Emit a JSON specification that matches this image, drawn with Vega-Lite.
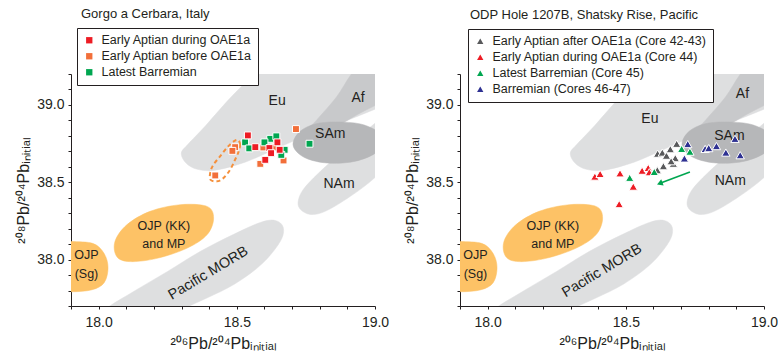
{
  "$schema": "https://vega.github.io/schema/vega-lite/v6.json",
  "padding": {"left": 15, "top": 7, "right": 5, "bottom": 5},
  "background": "white",
  "config": {
    "font": "Liberation Sans",
    "view": {"stroke": null},
    "axis": {"domainColor": "#231f20", "tickColor": "#231f20", "labelColor": "#231f20", "titleColor": "#231f20", "grid": false, "tickSize": 3, "labelFontSize": 14, "titleFontSize": 16, "titleFontWeight": "normal", "labelFont": "Liberation Sans", "titleFont": "Liberation Sans"},
    "legend": {"fillColor": "white", "strokeColor": "#231f20", "padding": 6, "labelFontSize": 12.5, "labelFont": "Liberation Sans", "labelColor": "#231f20", "labelLimit": 400, "symbolSize": 40, "rowPadding": 3, "labelOffset": 6, "symbolStrokeWidth": 0, "cornerRadius": 0},
    "title": {"fontSize": 13, "fontWeight": "normal", "anchor": "start", "color": "#231f20", "frame": "group", "offset": 7, "font": "Liberation Sans"}
  },
  "datasets": {
    "shapes": [
      {"s": "Eu", "c": "light", "i": 1, "x": 18.299, "y": 38.688},
      {"s": "Eu", "c": "light", "i": 2, "x": 18.317, "y": 38.623},
      {"s": "Eu", "c": "light", "i": 3, "x": 18.357, "y": 38.584},
      {"s": "Eu", "c": "light", "i": 4, "x": 18.422, "y": 38.578},
      {"s": "Eu", "c": "light", "i": 5, "x": 18.530, "y": 38.630},
      {"s": "Eu", "c": "light", "i": 6, "x": 18.639, "y": 38.714},
      {"s": "Eu", "c": "light", "i": 7, "x": 18.748, "y": 38.799},
      {"s": "Eu", "c": "light", "i": 8, "x": 18.875, "y": 38.883},
      {"s": "Eu", "c": "light", "i": 9, "x": 19.020, "y": 38.987},
      {"s": "Eu", "c": "light", "i": 10, "x": 19.201, "y": 39.123},
      {"s": "Eu", "c": "light", "i": 11, "x": 19.273, "y": 39.318},
      {"s": "Eu", "c": "light", "i": 12, "x": 19.164, "y": 39.481},
      {"s": "Eu", "c": "light", "i": 13, "x": 18.838, "y": 39.481},
      {"s": "Eu", "c": "light", "i": 14, "x": 18.621, "y": 39.286},
      {"s": "Eu", "c": "light", "i": 15, "x": 18.494, "y": 39.078},
      {"s": "Eu", "c": "light", "i": 16, "x": 18.386, "y": 38.864},
      {"s": "Eu", "c": "light", "i": 17, "x": 18.324, "y": 38.747},
      {"s": "NAm", "c": "light", "i": 1, "x": 18.722, "y": 38.377},
      {"s": "NAm", "c": "light", "i": 2, "x": 18.741, "y": 38.455},
      {"s": "NAm", "c": "light", "i": 3, "x": 18.795, "y": 38.558},
      {"s": "NAm", "c": "light", "i": 4, "x": 18.875, "y": 38.688},
      {"s": "NAm", "c": "light", "i": 5, "x": 19.001, "y": 38.883},
      {"s": "NAm", "c": "light", "i": 6, "x": 19.092, "y": 38.994},
      {"s": "NAm", "c": "light", "i": 7, "x": 19.164, "y": 38.929},
      {"s": "NAm", "c": "light", "i": 8, "x": 19.092, "y": 38.701},
      {"s": "NAm", "c": "light", "i": 9, "x": 19.001, "y": 38.532},
      {"s": "NAm", "c": "light", "i": 10, "x": 18.911, "y": 38.409},
      {"s": "NAm", "c": "light", "i": 11, "x": 18.820, "y": 38.312},
      {"s": "NAm", "c": "light", "i": 12, "x": 18.766, "y": 38.292},
      {"s": "NAm", "c": "light", "i": 13, "x": 18.730, "y": 38.325},
      {"s": "MORB", "c": "light", "i": 1, "x": 18.668, "y": 38.208},
      {"s": "MORB", "c": "light", "i": 2, "x": 18.657, "y": 38.117},
      {"s": "MORB", "c": "light", "i": 3, "x": 18.592, "y": 37.974},
      {"s": "MORB", "c": "light", "i": 4, "x": 18.494, "y": 37.844},
      {"s": "MORB", "c": "light", "i": 5, "x": 18.386, "y": 37.747},
      {"s": "MORB", "c": "light", "i": 6, "x": 18.259, "y": 37.649},
      {"s": "MORB", "c": "light", "i": 7, "x": 18.114, "y": 37.565},
      {"s": "MORB", "c": "light", "i": 8, "x": 18.005, "y": 37.584},
      {"s": "MORB", "c": "light", "i": 9, "x": 18.023, "y": 37.675},
      {"s": "MORB", "c": "light", "i": 10, "x": 18.125, "y": 37.792},
      {"s": "MORB", "c": "light", "i": 11, "x": 18.248, "y": 37.922},
      {"s": "MORB", "c": "light", "i": 12, "x": 18.367, "y": 38.052},
      {"s": "MORB", "c": "light", "i": 13, "x": 18.487, "y": 38.162},
      {"s": "MORB", "c": "light", "i": 14, "x": 18.585, "y": 38.240},
      {"s": "MORB", "c": "light", "i": 15, "x": 18.639, "y": 38.253},
      {"s": "Af", "c": "mid", "i": 1, "x": 18.740, "y": 38.800},
      {"s": "Af", "c": "mid", "i": 2, "x": 18.790, "y": 38.905},
      {"s": "Af", "c": "mid", "i": 3, "x": 18.860, "y": 39.050},
      {"s": "Af", "c": "mid", "i": 4, "x": 18.915, "y": 39.201},
      {"s": "Af", "c": "mid", "i": 5, "x": 18.985, "y": 39.351},
      {"s": "Af", "c": "mid", "i": 6, "x": 19.092, "y": 39.416},
      {"s": "Af", "c": "mid", "i": 7, "x": 19.128, "y": 39.221},
      {"s": "Af", "c": "mid", "i": 8, "x": 19.056, "y": 39.058},
      {"s": "Af", "c": "mid", "i": 9, "x": 18.947, "y": 38.948},
      {"s": "Af", "c": "mid", "i": 10, "x": 18.838, "y": 38.844},
      {"s": "SAm", "c": "dark", "i": 1, "x": 18.704, "y": 38.760},
      {"s": "SAm", "c": "dark", "i": 2, "x": 18.730, "y": 38.831},
      {"s": "SAm", "c": "dark", "i": 3, "x": 18.784, "y": 38.877},
      {"s": "SAm", "c": "dark", "i": 4, "x": 18.857, "y": 38.890},
      {"s": "SAm", "c": "dark", "i": 5, "x": 18.947, "y": 38.877},
      {"s": "SAm", "c": "dark", "i": 6, "x": 19.012, "y": 38.825},
      {"s": "SAm", "c": "dark", "i": 7, "x": 19.027, "y": 38.760},
      {"s": "SAm", "c": "dark", "i": 8, "x": 19.001, "y": 38.688},
      {"s": "SAm", "c": "dark", "i": 9, "x": 18.929, "y": 38.636},
      {"s": "SAm", "c": "dark", "i": 10, "x": 18.838, "y": 38.623},
      {"s": "SAm", "c": "dark", "i": 11, "x": 18.759, "y": 38.649},
      {"s": "SAm", "c": "dark", "i": 12, "x": 18.715, "y": 38.701},
      {"s": "KK", "c": "orange", "i": 1, "x": 18.059, "y": 38.117},
      {"s": "KK", "c": "orange", "i": 2, "x": 18.102, "y": 38.225},
      {"s": "KK", "c": "orange", "i": 3, "x": 18.186, "y": 38.312},
      {"s": "KK", "c": "orange", "i": 4, "x": 18.295, "y": 38.355},
      {"s": "KK", "c": "orange", "i": 5, "x": 18.392, "y": 38.344},
      {"s": "KK", "c": "orange", "i": 6, "x": 18.416, "y": 38.268},
      {"s": "KK", "c": "orange", "i": 7, "x": 18.392, "y": 38.160},
      {"s": "KK", "c": "orange", "i": 8, "x": 18.319, "y": 38.073},
      {"s": "KK", "c": "orange", "i": 9, "x": 18.211, "y": 38.008},
      {"s": "KK", "c": "orange", "i": 10, "x": 18.114, "y": 37.987},
      {"s": "KK", "c": "orange", "i": 11, "x": 18.066, "y": 38.019},
      {"s": "Sg", "c": "orange", "i": 1, "x": 17.824, "y": 38.117},
      {"s": "Sg", "c": "orange", "i": 2, "x": 17.900, "y": 38.117},
      {"s": "Sg", "c": "orange", "i": 3, "x": 17.980, "y": 38.104},
      {"s": "Sg", "c": "orange", "i": 4, "x": 18.020, "y": 38.039},
      {"s": "Sg", "c": "orange", "i": 5, "x": 18.034, "y": 37.948},
      {"s": "Sg", "c": "orange", "i": 6, "x": 18.020, "y": 37.851},
      {"s": "Sg", "c": "orange", "i": 7, "x": 17.976, "y": 37.805},
      {"s": "Sg", "c": "orange", "i": 8, "x": 17.900, "y": 37.792},
      {"s": "Sg", "c": "orange", "i": 9, "x": 17.824, "y": 37.805},
      {"s": "Sg", "c": "orange", "i": 10, "x": 17.788, "y": 37.955}
    ],
    "ojp": [
      {"t": "OJP (KK)", "x": 18.236, "y": 38.217},
      {"t": "and MP", "x": 18.236, "y": 38.104},
      {"t": "OJP", "x": 17.956, "y": 38.030},
      {"t": "(Sg)", "x": 17.956, "y": 37.905}
    ]
  },
  "hconcat": [
    {
      "width": 304,
      "height": 232,
      "title": {"text": "Gorgo a Cerbara, Italy", "dx": 10},
      "encoding": {
        "x": {"field": "x", "type": "quantitative", "scale": {"domain": [17.9, 19.0], "nice": false, "zero": false},
          "axis": {"title": "²⁰⁶Pb/²⁰⁴Pbᵢₙᵢₜᵢₐₗ", "values": [17.9, 18.0, 18.1, 18.2, 18.3, 18.4, 18.5, 18.6, 18.7, 18.8, 18.9, 19.0], "labelExpr": "abs(datum.value*2 - round(datum.value*2)) < 0.01 ? format(datum.value, '.1f') : ''", "labelFlush": false, "labelOverlap": false, "labelPadding": 6, "titlePadding": 6}},
        "y": {"field": "y", "type": "quantitative", "scale": {"domain": [37.7, 39.2], "nice": false, "zero": false},
          "axis": {"title": "²⁰⁸Pb/²⁰⁴Pbᵢₙᵢₜᵢₐₗ", "values": [37.7, 37.8, 37.9, 38.0, 38.1, 38.2, 38.3, 38.4, 38.5, 38.6, 38.7, 38.8, 38.9, 39.0, 39.1, 39.2], "labelExpr": "abs(datum.value*2 - round(datum.value*2)) < 0.01 ? format(datum.value, '.1f') : ''", "labelFlush": false, "labelOverlap": false, "labelPadding": 4, "titlePadding": 5}}
      },
      "layer": [
        {"data": {"name": "shapes"}, "transform": [{"filter": "datum.c === 'light'"}], "mark": {"type": "line", "interpolate": "cardinal-closed", "fill": "#dedfe0", "stroke": "#dedfe0", "strokeWidth": 0.5, "clip": true}, "encoding": {"detail": {"field": "s"}, "order": {"field": "i", "type": "quantitative"}}},
        {"data": {"name": "shapes"}, "transform": [{"filter": "datum.c === 'mid'"}], "mark": {"type": "line", "interpolate": "cardinal-closed", "fill": "#c8c9cb", "stroke": "#c8c9cb", "strokeWidth": 0.5, "clip": true}, "encoding": {"detail": {"field": "s"}, "order": {"field": "i", "type": "quantitative"}}},
        {"data": {"name": "shapes"}, "transform": [{"filter": "datum.c === 'dark'"}], "mark": {"type": "line", "interpolate": "cardinal-closed", "fill": "#b6b7b9", "stroke": "#b6b7b9", "strokeWidth": 0.5, "clip": true}, "encoding": {"detail": {"field": "s"}, "order": {"field": "i", "type": "quantitative"}}},
        {"data": {"name": "shapes"}, "transform": [{"filter": "datum.c === 'orange'"}], "mark": {"type": "line", "interpolate": "cardinal-closed", "fill": "#fdc266", "stroke": "#fdc266", "strokeWidth": 0.5, "clip": true}, "encoding": {"detail": {"field": "s"}, "order": {"field": "i", "type": "quantitative"}}},
        {"data": {"values": [
          {"t": "Eu", "x": 18.646, "y": 39.026},
          {"t": "Af", "x": 18.939, "y": 39.047},
          {"t": "SAm", "x": 18.838, "y": 38.810},
          {"t": "NAm", "x": 18.870, "y": 38.490}
        ]}, "mark": {"type": "text", "fontSize": 14, "color": "#231f20", "align": "center", "baseline": "middle"}, "encoding": {"text": {"field": "t"}}},
        {"data": {"name": "ojp"}, "mark": {"type": "text", "fontSize": 12.5, "color": "#231f20", "align": "center", "baseline": "middle"}, "encoding": {"text": {"field": "t"}}},
        {"data": {"values": [{"t": "Pacific MORB", "x": 18.397, "y": 37.911}]}, "mark": {"type": "text", "fontSize": 14.5, "angle": -31, "color": "#231f20", "align": "center", "baseline": "middle"}, "encoding": {"text": {"field": "t"}}},
        {"data": {"values": [
          {"i": 1, "x": 18.506, "y": 38.771}, {"i": 2, "x": 18.512, "y": 38.745}, {"i": 3, "x": 18.507, "y": 38.701},
          {"i": 4, "x": 18.494, "y": 38.647}, {"i": 5, "x": 18.476, "y": 38.582}, {"i": 6, "x": 18.452, "y": 38.528},
          {"i": 7, "x": 18.428, "y": 38.506}, {"i": 8, "x": 18.404, "y": 38.518}, {"i": 9, "x": 18.405, "y": 38.571},
          {"i": 10, "x": 18.416, "y": 38.615}, {"i": 11, "x": 18.440, "y": 38.669}, {"i": 12, "x": 18.464, "y": 38.723},
          {"i": 13, "x": 18.482, "y": 38.755}, {"i": 14, "x": 18.496, "y": 38.772}
        ]}, "mark": {"type": "line", "interpolate": "cardinal-closed", "stroke": "#f5903c", "strokeWidth": 2, "strokeDash": [4, 3]}, "encoding": {"order": {"field": "i", "type": "quantitative"}}},
        {"data": {"values": [
          {"g": "Early Aptian before OAE1a", "x": 18.714, "y": 38.844},
          {"g": "Early Aptian before OAE1a", "x": 18.639, "y": 38.775},
          {"g": "Early Aptian before OAE1a", "x": 18.494, "y": 38.727},
          {"g": "Early Aptian before OAE1a", "x": 18.484, "y": 38.703},
          {"g": "Early Aptian before OAE1a", "x": 18.596, "y": 38.725},
          {"g": "Early Aptian before OAE1a", "x": 18.633, "y": 38.725},
          {"g": "Early Aptian before OAE1a", "x": 18.585, "y": 38.619},
          {"g": "Early Aptian before OAE1a", "x": 18.669, "y": 38.641},
          {"g": "Early Aptian before OAE1a", "x": 18.422, "y": 38.544},
          {"g": "Latest Barremian", "x": 18.621, "y": 38.781},
          {"g": "Latest Barremian", "x": 18.643, "y": 38.797},
          {"g": "Latest Barremian", "x": 18.530, "y": 38.758},
          {"g": "Latest Barremian", "x": 18.545, "y": 38.719},
          {"g": "Latest Barremian", "x": 18.600, "y": 38.758},
          {"g": "Latest Barremian", "x": 18.673, "y": 38.710},
          {"g": "Latest Barremian", "x": 18.661, "y": 38.677},
          {"g": "Latest Barremian", "x": 18.763, "y": 38.749},
          {"g": "Early Aptian during OAE1a", "x": 18.540, "y": 38.803},
          {"g": "Early Aptian during OAE1a", "x": 18.647, "y": 38.758},
          {"g": "Early Aptian during OAE1a", "x": 18.567, "y": 38.727},
          {"g": "Early Aptian during OAE1a", "x": 18.618, "y": 38.721},
          {"g": "Early Aptian during OAE1a", "x": 18.624, "y": 38.688},
          {"g": "Early Aptian during OAE1a", "x": 18.655, "y": 38.710},
          {"g": "Early Aptian during OAE1a", "x": 18.603, "y": 38.645}
        ]}, "mark": {"type": "square", "size": 48, "filled": true, "stroke": "white", "strokeWidth": 1, "opacity": 1},
          "encoding": {"color": {"field": "g", "type": "nominal",
            "scale": {"domain": ["Early Aptian during OAE1a", "Early Aptian before OAE1a", "Latest Barremian"], "range": ["#ed1c24", "#f26f3a", "#00a650"]},
            "legend": {"title": null, "orient": "none", "legendX": 6, "legendY": -46}}}}
      ]
    },
    {
      "width": 304,
      "height": 232,
      "title": {"text": "ODP Hole 1207B, Shatsky Rise, Pacific", "dx": 10},
      "encoding": {
        "x": {"field": "x", "type": "quantitative", "scale": {"domain": [17.9, 19.0], "nice": false, "zero": false},
          "axis": {"title": "²⁰⁶Pb/²⁰⁴Pbᵢₙᵢₜᵢₐₗ", "values": [17.9, 18.0, 18.1, 18.2, 18.3, 18.4, 18.5, 18.6, 18.7, 18.8, 18.9, 19.0], "labelExpr": "abs(datum.value*2 - round(datum.value*2)) < 0.01 ? format(datum.value, '.1f') : ''", "labelFlush": false, "labelOverlap": false, "labelPadding": 6, "titlePadding": 6}},
        "y": {"field": "y", "type": "quantitative", "scale": {"domain": [37.7, 39.2], "nice": false, "zero": false},
          "axis": {"title": "²⁰⁸Pb/²⁰⁴Pbᵢₙᵢₜᵢₐₗ", "values": [37.7, 37.8, 37.9, 38.0, 38.1, 38.2, 38.3, 38.4, 38.5, 38.6, 38.7, 38.8, 38.9, 39.0, 39.1, 39.2], "labelExpr": "abs(datum.value*2 - round(datum.value*2)) < 0.01 ? format(datum.value, '.1f') : ''", "labelFlush": false, "labelOverlap": false, "labelPadding": 4, "titlePadding": 5}}
      },
      "layer": [
        {"data": {"name": "shapes"}, "transform": [{"filter": "datum.c === 'light'"}], "mark": {"type": "line", "interpolate": "cardinal-closed", "fill": "#dedfe0", "stroke": "#dedfe0", "strokeWidth": 0.5, "clip": true}, "encoding": {"detail": {"field": "s"}, "order": {"field": "i", "type": "quantitative"}}},
        {"data": {"name": "shapes"}, "transform": [{"filter": "datum.c === 'mid'"}], "mark": {"type": "line", "interpolate": "cardinal-closed", "fill": "#c8c9cb", "stroke": "#c8c9cb", "strokeWidth": 0.5, "clip": true}, "encoding": {"detail": {"field": "s"}, "order": {"field": "i", "type": "quantitative"}}},
        {"data": {"name": "shapes"}, "transform": [{"filter": "datum.c === 'dark'"}], "mark": {"type": "line", "interpolate": "cardinal-closed", "fill": "#b6b7b9", "stroke": "#b6b7b9", "strokeWidth": 0.5, "clip": true}, "encoding": {"detail": {"field": "s"}, "order": {"field": "i", "type": "quantitative"}}},
        {"data": {"name": "shapes"}, "transform": [{"filter": "datum.c === 'orange'"}], "mark": {"type": "line", "interpolate": "cardinal-closed", "fill": "#fdc266", "stroke": "#fdc266", "strokeWidth": 0.5, "clip": true}, "encoding": {"detail": {"field": "s"}, "order": {"field": "i", "type": "quantitative"}}},
        {"data": {"values": [
          {"t": "Eu", "x": 18.587, "y": 38.907},
          {"t": "Af", "x": 18.922, "y": 39.069},
          {"t": "SAm", "x": 18.875, "y": 38.800},
          {"t": "NAm", "x": 18.878, "y": 38.505}
        ]}, "mark": {"type": "text", "fontSize": 14, "color": "#231f20", "align": "center", "baseline": "middle"}, "encoding": {"text": {"field": "t"}}},
        {"data": {"name": "ojp"}, "mark": {"type": "text", "fontSize": 12.5, "color": "#231f20", "align": "center", "baseline": "middle"}, "encoding": {"text": {"field": "t"}}},
        {"data": {"values": [{"t": "Pacific MORB", "x": 18.414, "y": 37.927}]}, "mark": {"type": "text", "fontSize": 14.5, "angle": -31, "color": "#231f20", "align": "center", "baseline": "middle"}, "encoding": {"text": {"field": "t"}}},
        {"data": {"values": [{"x": 18.732, "y": 38.567, "x2": 18.626, "y2": 38.495}]}, "mark": {"type": "rule", "color": "#00a650", "strokeWidth": 1.6}, "encoding": {"x2": {"field": "x2"}, "y2": {"field": "y2"}}},
        {"data": {"values": [{"x": 18.626, "y": 38.495}]}, "mark": {"type": "point", "shape": "triangle", "angle": 249, "size": 45, "filled": true, "color": "#00a650", "opacity": 1}},
        {"data": {"values": [
          {"g": "Early Aptian after OAE1a (Core 42-43)", "x": 18.615, "y": 38.685},
          {"g": "Early Aptian after OAE1a (Core 42-43)", "x": 18.632, "y": 38.692},
          {"g": "Early Aptian after OAE1a (Core 42-43)", "x": 18.647, "y": 38.672},
          {"g": "Early Aptian after OAE1a (Core 42-43)", "x": 18.661, "y": 38.714},
          {"g": "Early Aptian after OAE1a (Core 42-43)", "x": 18.684, "y": 38.749},
          {"g": "Early Aptian after OAE1a (Core 42-43)", "x": 18.679, "y": 38.656},
          {"g": "Early Aptian after OAE1a (Core 42-43)", "x": 18.672, "y": 38.620},
          {"g": "Early Aptian after OAE1a (Core 42-43)", "x": 18.636, "y": 38.604},
          {"g": "Early Aptian after OAE1a (Core 42-43)", "x": 18.614, "y": 38.578},
          {"g": "Early Aptian after OAE1a (Core 42-43)", "x": 18.664, "y": 38.636},
          {"g": "Early Aptian during OAE1a (Core 44)", "x": 18.388, "y": 38.537},
          {"g": "Early Aptian during OAE1a (Core 44)", "x": 18.407, "y": 38.554},
          {"g": "Early Aptian during OAE1a (Core 44)", "x": 18.479, "y": 38.558},
          {"g": "Early Aptian during OAE1a (Core 44)", "x": 18.559, "y": 38.575},
          {"g": "Early Aptian during OAE1a (Core 44)", "x": 18.581, "y": 38.593},
          {"g": "Early Aptian during OAE1a (Core 44)", "x": 18.585, "y": 38.565},
          {"g": "Early Aptian during OAE1a (Core 44)", "x": 18.527, "y": 38.472},
          {"g": "Early Aptian during OAE1a (Core 44)", "x": 18.476, "y": 38.359},
          {"g": "Latest Barremian (Core 45)", "x": 18.702, "y": 38.716},
          {"g": "Latest Barremian (Core 45)", "x": 18.732, "y": 38.698},
          {"g": "Latest Barremian (Core 45)", "x": 18.603, "y": 38.567},
          {"g": "Latest Barremian (Core 45)", "x": 18.514, "y": 38.529},
          {"g": "Barremian (Cores 46-47)", "x": 18.724, "y": 38.747},
          {"g": "Barremian (Cores 46-47)", "x": 18.712, "y": 38.654},
          {"g": "Barremian (Cores 46-47)", "x": 18.787, "y": 38.716},
          {"g": "Barremian (Cores 46-47)", "x": 18.800, "y": 38.721},
          {"g": "Barremian (Cores 46-47)", "x": 18.828, "y": 38.734},
          {"g": "Barremian (Cores 46-47)", "x": 18.862, "y": 38.692},
          {"g": "Barremian (Cores 46-47)", "x": 18.895, "y": 38.781},
          {"g": "Barremian (Cores 46-47)", "x": 18.914, "y": 38.675}
        ]}, "mark": {"type": "point", "shape": "triangle-up", "size": 70, "filled": true, "stroke": "white", "strokeWidth": 1, "opacity": 1},
          "encoding": {"color": {"field": "g", "type": "nominal",
            "scale": {"domain": ["Early Aptian after OAE1a (Core 42-43)", "Early Aptian during OAE1a (Core 44)", "Latest Barremian (Core 45)", "Barremian (Cores 46-47)"], "range": ["#58595b", "#ed1c24", "#00a650", "#2e3192"]},
            "legend": {"title": null, "orient": "none", "legendX": 8, "legendY": -45, "symbolType": "triangle-up"}}}}
      ]
    }
  ],
  "spacing": 85,
  "bounds": "flush",
  "resolve": {"scale": {"color": "independent"}, "legend": {"color": "independent"}}
}
